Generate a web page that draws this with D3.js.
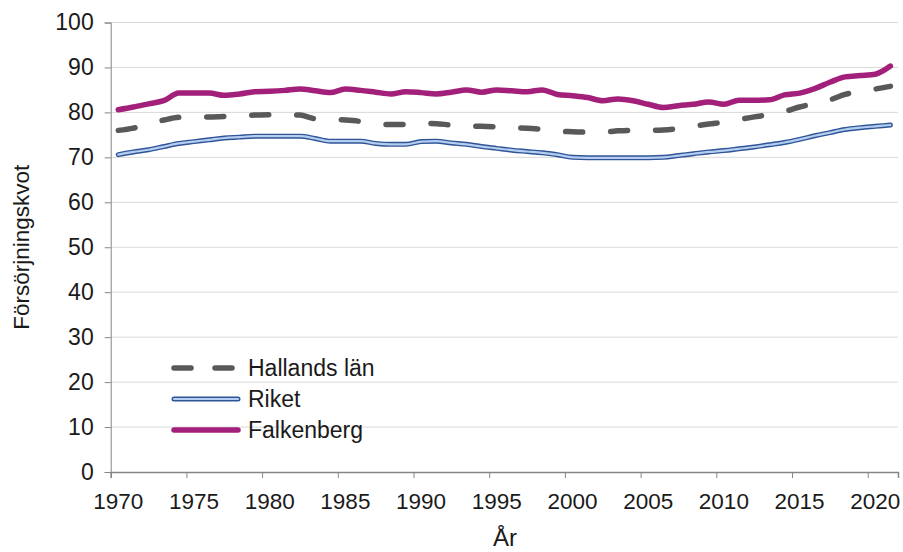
<!DOCTYPE html>
<html><head><meta charset="utf-8">
<script src="https://cdn.jsdelivr.net/npm/d3@7"></script>
<style>html,body{margin:0;padding:0;background:#fff;}svg{display:block;}</style>
</head><body>
<svg id="chart" width="903" height="552"></svg>
<script>
const years = d3.range(1970, 2022);
const hallands = [76.0,76.5,77.5,78.3,78.9,79.0,79.0,79.1,79.3,79.4,79.5,79.5,79.4,78.6,78.5,78.3,78.0,77.5,77.3,77.3,77.6,77.5,77.2,77.0,76.9,76.8,76.6,76.5,76.2,75.8,75.7,75.6,75.6,75.9,76.0,76.0,76.1,76.4,76.9,77.4,77.8,78.4,79.0,79.5,80.2,81.2,82.0,82.8,84.0,84.7,85.2,85.8];
const riket = [70.6,71.2,71.7,72.4,73.1,73.5,73.9,74.3,74.5,74.7,74.7,74.7,74.7,74.2,73.6,73.6,73.6,73.1,72.9,72.9,73.5,73.6,73.2,72.9,72.4,72.0,71.6,71.3,71.0,70.6,70.0,69.9,69.9,69.9,69.9,69.9,70.0,70.4,70.8,71.2,71.5,71.9,72.3,72.8,73.3,74.0,74.8,75.5,76.2,76.6,76.9,77.2];
const falkenberg = [80.6,81.2,81.9,82.6,84.3,84.3,84.3,83.8,84.1,84.6,84.7,84.9,85.2,84.8,84.4,85.2,84.9,84.5,84.1,84.6,84.4,84.1,84.5,85.0,84.5,85.0,84.8,84.6,85.0,84.0,83.7,83.3,82.6,83.0,82.6,81.8,81.1,81.5,81.8,82.3,81.8,82.7,82.7,82.8,83.9,84.3,85.3,86.7,87.9,88.2,88.5,90.3];
const seriesNames = ["Hallands län", "Riket", "Falkenberg"];
const xTicks = [1970,1975,1980,1985,1990,1995,2000,2005,2010,2015,2020];
const yTicks = [0,10,20,30,40,50,60,70,80,90,100];
const yTitle = "Försörjningskvot";
const xTitle = "År";

const svg = d3.select("#chart");
const font = "'Liberation Sans', Arial, sans-serif";
const x = d3.scaleLinear().domain([1970, 2022]).range([110.7, 898]);
const y = d3.scaleLinear().domain([0, 100]).range([472, 22.5]);

// gridlines
svg.append("g").selectAll("line").data(yTicks.filter(d => d > 0)).join("line")
  .attr("x1", x(1970)).attr("x2", x(2022))
  .attr("y1", d => y(d)).attr("y2", d => y(d))
  .attr("stroke", "#d9d9d9").attr("stroke-width", 1);

// y axis
const yAxis = svg.append("g").attr("transform", `translate(${x(1970)},0)`)
  .call(d3.axisLeft(y).tickValues(yTicks).tickSize(6).tickPadding(11));
yAxis.select(".domain").attr("stroke", "#868686");
yAxis.selectAll(".tick line").attr("stroke", "#868686");
yAxis.selectAll("text").attr("font-family", font).attr("font-size", 23).attr("fill", "#1a1a1a");

// x axis (ticks between categories, labels at category centres)
const xAxis = svg.append("g").attr("transform", `translate(0,${y(0)})`)
  .call(d3.axisBottom(x).tickValues(xTicks).tickFormat("").tickSizeOuter(0).tickSize(6));
xAxis.select(".domain").attr("stroke", "#868686").attr("stroke-width", 1.5);
xAxis.selectAll(".tick line").attr("stroke", "#868686");
svg.append("g").selectAll("text").data(xTicks).join("text")
  .attr("x", d => x(d + 0.5)).attr("y", 509).attr("text-anchor", "middle")
  .attr("font-family", font).attr("font-size", 22.5).attr("fill", "#1a1a1a")
  .text(d3.format("d"));

const line = d3.line().x((d, i) => x(years[i] + 0.5)).y(d => y(d)).curve(d3.curveMonotoneX);

// Riket (double line)
svg.append("path").datum(riket).attr("d", line).attr("fill", "none")
  .attr("stroke", "#2f5597").attr("stroke-width", 5).attr("stroke-linecap", "round").attr("stroke-linejoin", "round");
svg.append("path").datum(riket).attr("d", line).attr("fill", "none")
  .attr("stroke", "#b4cdf0").attr("stroke-width", 2.2).attr("stroke-linecap", "round").attr("stroke-linejoin", "round");
// Hallands
svg.append("path").datum(hallands).attr("d", line).attr("fill", "none")
  .attr("stroke", "#595959").attr("stroke-width", 5.5).attr("stroke-dasharray", "17,28")
  .attr("stroke-linecap", "round");
// Falkenberg
svg.append("path").datum(falkenberg).attr("d", line).attr("fill", "none")
  .attr("stroke", "#a3207a").attr("stroke-width", 5.5).attr("stroke-linecap", "round").attr("stroke-linejoin", "round");

// legend
const lg = svg.append("g");
const ly = [368, 399, 430];
lg.append("line").attr("x1", 174).attr("x2", 238).attr("y1", ly[0]).attr("y2", ly[0])
  .attr("stroke", "#595959").attr("stroke-width", 5.5).attr("stroke-dasharray", "17,24").attr("stroke-linecap", "round");
lg.append("line").attr("x1", 174).attr("x2", 238).attr("y1", ly[1]).attr("y2", ly[1])
  .attr("stroke", "#2f5597").attr("stroke-width", 5).attr("stroke-linecap", "round");
lg.append("line").attr("x1", 174).attr("x2", 238).attr("y1", ly[1]).attr("y2", ly[1])
  .attr("stroke", "#b4cdf0").attr("stroke-width", 2.2).attr("stroke-linecap", "round");
lg.append("line").attr("x1", 174).attr("x2", 238).attr("y1", ly[2]).attr("y2", ly[2])
  .attr("stroke", "#a3207a").attr("stroke-width", 5.5).attr("stroke-linecap", "round");
lg.selectAll("text").data(seriesNames).join("text")
  .attr("x", 248).attr("y", (d, i) => ly[i]).attr("dy", "0.35em")
  .attr("font-family", font).attr("font-size", 23).attr("fill", "#1a1a1a").text(d => d);

// titles
svg.append("text").attr("transform", `translate(29,${y(50)}) rotate(-90)`).attr("text-anchor", "middle")
  .attr("font-family", font).attr("font-size", 22.5).attr("fill", "#1a1a1a").text(yTitle);
svg.append("text").attr("x", 505).attr("y", 546).attr("text-anchor", "middle")
  .attr("font-family", font).attr("font-size", 24).attr("fill", "#1a1a1a").text(xTitle);
</script>
</body></html>
